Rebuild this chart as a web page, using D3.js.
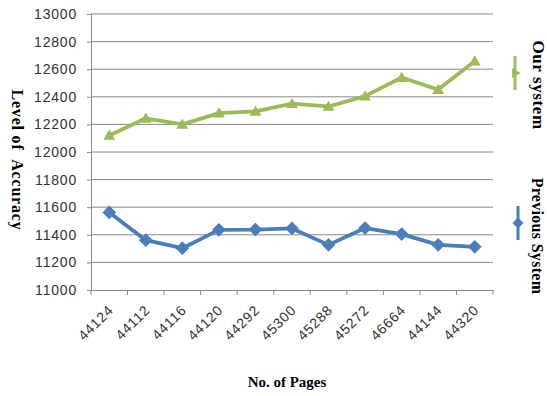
<!DOCTYPE html>
<html><head><meta charset="utf-8">
<script src="https://cdn.jsdelivr.net/npm/d3@7"></script>
<style>
html,body{margin:0;padding:0;background:#fff;}
svg{display:block;}
</style></head>
<body>
<svg id="chart" width="547" height="396"></svg>
<script>
const categories = ["44124","44112","44116","44120","44292","45300","45288","45272","46664","44144","44320"];
const ourSystem = [12120,12244,12200,12282,12295,12350,12330,12405,12540,12452,12658];
const previousSystem = [11562,11361,11303,11436,11438,11446,11327,11449,11405,11327,11313];
const yTicks = [11000,11200,11400,11600,11800,12000,12200,12400,12600,12800,13000];
const seriesNames = ["Our system","Previous System"];

const svg = d3.select("#chart");
const m = {left:91, right:493, top:14, bottom:290};
const x = d3.scaleBand().domain(categories).range([m.left, m.right]);
const y = d3.scaleLinear().domain([11000,13000]).range([m.bottom, m.top]);
const green = "#9BBB59", blue = "#4A7EBB";

// gridlines
svg.append("g").selectAll("line").data(yTicks.slice(1)).join("line")
  .attr("x1", m.left).attr("x2", m.right)
  .attr("y1", d=>y(d)).attr("y2", d=>y(d))
  .attr("stroke", "#8a8a8a").attr("stroke-width", 1);

// y axis
const ya = svg.append("g").attr("transform", `translate(${m.left},0)`)
  .call(d3.axisLeft(y).tickValues(yTicks).tickSize(4).tickPadding(10).tickFormat(d3.format("d")));
ya.select(".domain").attr("stroke","#8a8a8a");
ya.selectAll(".tick line").attr("stroke","#8a8a8a");
ya.selectAll("text").attr("font-family","Liberation Sans, Arial, sans-serif")
  .attr("font-size",14).attr("letter-spacing","0.8px").attr("fill","#333");

// x axis
const xa = svg.append("g").attr("transform", `translate(0,${m.bottom})`)
  .call(d3.axisBottom(x).tickSize(0).tickPadding(0));
xa.select(".domain").attr("stroke","#8a8a8a");
xa.selectAll(".tick text")
  .attr("font-family","Liberation Sans, Arial, sans-serif")
  .attr("font-size",14).attr("letter-spacing","0.8px").attr("fill","#333")
  .attr("text-anchor","end").attr("dy","0")
  .attr("transform","translate(5,21) rotate(-45)");
// band boundary ticks
svg.append("g").selectAll("line").data(categories.concat(["_end"])).join("line")
  .attr("x1", (d,i)=> i<categories.length ? x(d) : m.right)
  .attr("x2", (d,i)=> i<categories.length ? x(d) : m.right)
  .attr("y1", m.bottom).attr("y2", m.bottom+5)
  .attr("stroke","#8a8a8a");

const cx = d => x(d) + x.bandwidth()/2;
const line = d3.line().x(d=>cx(d[0])).y(d=>y(d[1]));

const ourData = categories.map((c,i)=>[c, ourSystem[i]]);
const prevData = categories.map((c,i)=>[c, previousSystem[i]]);

svg.append("path").datum(prevData).attr("d", line).attr("fill","none")
  .attr("stroke", blue).attr("stroke-width", 3.8).attr("stroke-linejoin","round");
svg.append("g").selectAll("path").data(prevData).join("path")
  .attr("d", d3.symbol(d3.symbolDiamond2, 120)())
  .attr("transform", d=>`translate(${cx(d[0])},${y(d[1])})`)
  .attr("fill", blue);

svg.append("path").datum(ourData).attr("d", line).attr("fill","none")
  .attr("stroke", green).attr("stroke-width", 3.8).attr("stroke-linejoin","round");
svg.append("g").selectAll("path").data(ourData).join("path")
  .attr("d", d3.symbol(d3.symbolTriangle2, 100)())
  .attr("transform", d=>`translate(${cx(d[0])},${y(d[1])+1})`)
  .attr("fill", green);

// axis titles
svg.append("text").attr("transform","translate(12,160) rotate(90)")
  .attr("text-anchor","middle").attr("font-family","Liberation Serif, Times New Roman, serif")
  .attr("font-weight","bold").attr("font-size",16).attr("letter-spacing","0.8px").attr("fill","#000")
  .attr("xml:space","preserve").text("Level of  Accuracy");
svg.append("text").attr("x",287).attr("y",387)
  .attr("text-anchor","middle").attr("font-family","Liberation Serif, Times New Roman, serif")
  .attr("font-weight","bold").attr("font-size",15).attr("fill","#000")
  .text("No. of Pages");

// legend (rotated)
const legend = [
  {name: seriesNames[0], color: green, sym: d3.symbolTriangle2, size: 70, mx: 515, my: 73, tx: 533, ty: 85, fs: 17, ls: 0.6},
  {name: seriesNames[1], color: blue, sym: d3.symbolDiamond2, size: 80, mx: 518, my: 223, tx: 532, ty: 236, fs: 16, ls: 0.3}
];
const lg = svg.append("g");
legend.forEach(l => {
  lg.append("line").attr("x1", l.mx).attr("x2", l.mx).attr("y1", l.my-17).attr("y2", l.my+17)
    .attr("stroke", l.color).attr("stroke-width", 3);
  lg.append("path").attr("d", d3.symbol(l.sym, l.size)())
    .attr("transform", `translate(${l.mx},${l.my}) rotate(90)`).attr("fill", l.color);
  lg.append("text").attr("transform", `translate(${l.tx},${l.ty}) rotate(90)`)
    .attr("text-anchor","middle").attr("font-family","Liberation Serif, Times New Roman, serif")
    .attr("font-weight","bold").attr("font-size",l.fs).attr("letter-spacing", l.ls+"px")
    .attr("fill","#000").text(l.name);
});
</script>
</body></html>
